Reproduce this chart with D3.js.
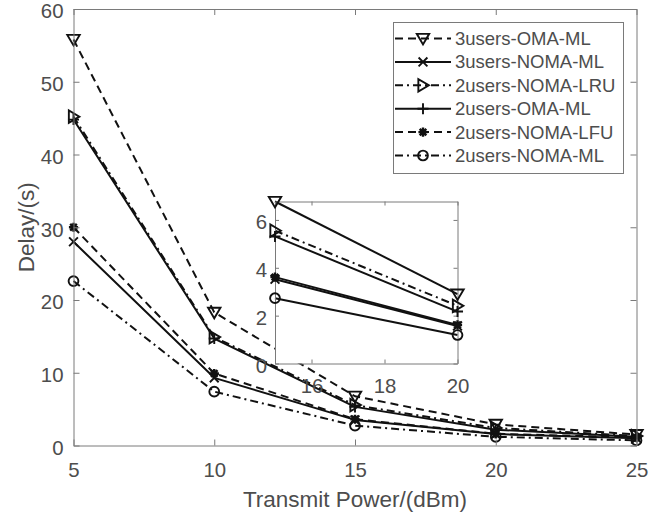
<!DOCTYPE html>
<html>
<head>
<meta charset="utf-8">
<script src="https://cdn.jsdelivr.net/npm/d3@7"></script>
<style>
  html, body { margin: 0; padding: 0; background: #fff; }
  svg { display: block; }
  text { font-family: "Liberation Sans", Arial, Helvetica, sans-serif; fill: #4d4d4d; }
</style>
</head>
<body>
<svg id="chart" width="670" height="514"></svg>
<script>
// Transmit power levels (dBm)
const powerLevels = [5, 10, 15, 20, 25];

// Average delay (s) for each scheme
const oma3Ml   = [55.8, 18.3, 6.77, 2.9, 1.5];
const noma3Ml  = [28.0, 9.3, 3.52, 1.57, 1.0];
const lru2Noma = [45.2, 14.9, 5.55, 2.41, 1.3];
const oma2Ml   = [44.8, 14.7, 5.31, 2.17, 1.2];
const lfu2Noma = [30.0, 9.9, 3.61, 1.61, 1.1];
const noma2Ml  = [22.6, 7.4, 2.73, 1.19, 0.7];

const seriesNames = ["3users-OMA-ML", "3users-NOMA-ML", "2users-NOMA-LRU",
                     "2users-OMA-ML", "2users-NOMA-LFU", "2users-NOMA-ML"];

const xTicks = [5, 10, 15, 20, 25];
const yTicks = [0, 10, 20, 30, 40, 50, 60];
const insetXTicks = [16, 18, 20];
const insetYTicks = [0, 2, 4, 6];

const DASH = "8,5";
const DASHDOT = "8,4,2,4";

const series = [
  { name: seriesNames[0], values: oma3Ml,   dash: DASH,    marker: "triDown",  insetDash: null },
  { name: seriesNames[1], values: noma3Ml,  dash: null,    marker: "x",        insetDash: null },
  { name: seriesNames[2], values: lru2Noma, dash: DASHDOT, marker: "triRight", insetDash: DASHDOT },
  { name: seriesNames[3], values: oma2Ml,   dash: null,    marker: "plus",     insetDash: null },
  { name: seriesNames[4], values: lfu2Noma, dash: DASH,    marker: "star",     insetDash: null },
  { name: seriesNames[5], values: noma2Ml,  dash: DASHDOT, marker: "circle",   insetDash: null }
];

const INK = "#111";
const AXIS = "#7a7a7a";
const TICK_FONT = 20.4;

// Marker shapes as path strings centred on the origin
function markerPath(type) {
  const t = 6.2, c = 4.6, s = 4.4;
  switch (type) {
    case "triDown":  return `M${-t},${-t*0.75}L${t},${-t*0.75}L0,${t*0.95}Z`;
    case "triRight": return `M${-t*0.75},${-t}L${-t*0.75},${t}L${t*0.95},0Z`;
    case "x":        return `M${-s},${-s}L${s},${s}M${-s},${s}L${s},${-s}`;
    case "plus":     return `M${-c*1.2},0L${c*1.2},0M0,${-c*1.2}L0,${c*1.2}`;
    case "star":     return `M${-c},0L${c},0M0,${-c}L0,${c}M${-c*0.72},${-c*0.72}L${c*0.72},${c*0.72}M${-c*0.72},${c*0.72}L${c*0.72},${-c*0.72}`;
    case "circle":   return d3.arc()({ innerRadius: 0, outerRadius: 4.9, startAngle: 0, endAngle: 2 * Math.PI });
  }
}

function drawMarkers(g, pts, type) {
  g.selectAll(null).data(pts).join("path")
    .attr("d", markerPath(type))
    .attr("transform", d => `translate(${d[0]},${d[1]})`)
    .attr("fill", "none")
    .attr("stroke", INK)
    .attr("stroke-width", type === "star" ? 2.4 : 1.9)
    .attr("stroke-linejoin", "miter");
}

const svg = d3.select("#chart");
svg.append("rect").attr("width", 670).attr("height", 514).attr("fill", "#fff");

// ---------- Main axes ----------
const M = { left: 73.5, right: 636.5, top: 9, bottom: 445.5 };
const x = d3.scaleLinear().domain([5, 25]).range([M.left, M.right]);
const y = d3.scaleLinear().domain([0, 60]).range([M.bottom, M.top]);

const line = d3.line().x(d => x(d[0])).y(d => y(d[1]));

const mainG = svg.append("g");
series.forEach(s => {
  const pts = powerLevels.map((p, i) => [p, s.values[i]]);
  mainG.append("path")
    .attr("d", line(pts))
    .attr("fill", "none")
    .attr("stroke", INK)
    .attr("stroke-width", 2)
    .attr("stroke-dasharray", s.dash)
    .attr("stroke-linejoin", "round");
  drawMarkers(mainG, pts.map(d => [x(d[0]), y(d[1])]), s.marker);
});

// Axis frame with inward ticks on all sides
function frame(g, xs, ys, xt, yt, tickLen, xPad, yPad) {
  const [x0, x1] = xs.range();
  const [y0, y1] = ys.range();
  const fmt = d3.format("~g");
  const bottom = d3.axisBottom(xs).tickValues(xt).tickFormat(fmt).tickSizeInner(-tickLen).tickSizeOuter(0).tickPadding(xPad);
  const top = d3.axisTop(xs).tickValues(xt).tickSizeInner(-tickLen).tickSizeOuter(0).tickFormat("");
  const left = d3.axisLeft(ys).tickValues(yt).tickFormat(fmt).tickSizeInner(-tickLen).tickSizeOuter(0).tickPadding(yPad);
  const right = d3.axisRight(ys).tickValues(yt).tickSizeInner(-tickLen).tickSizeOuter(0).tickFormat("");
  const style = sel => {
    sel.select(".domain").attr("stroke", AXIS).attr("stroke-width", 1);
    sel.selectAll(".tick line").attr("stroke", AXIS).attr("stroke-width", 1);
    sel.selectAll(".tick text").attr("fill", "#4d4d4d").style("font-size", TICK_FONT + "px")
      .style("font-family", '"Liberation Sans", Arial, sans-serif');
    sel.attr("font-family", null).attr("font-size", null);
  };
  g.append("g").attr("transform", `translate(0,${y0})`).call(bottom).call(style);
  g.append("g").attr("transform", `translate(0,${y1})`).call(top).call(style);
  g.append("g").attr("transform", `translate(${x0},0)`).call(left).call(style)
    .selectAll(".tick text").attr("dy", "0.44em");
  g.append("g").attr("transform", `translate(${x1},0)`).call(right).call(style);
}

frame(svg.append("g"), x, y, xTicks, yTicks, 6, 17, 10);

// Axis titles
svg.append("text")
  .attr("x", (M.left + M.right) / 2).attr("y", 507)
  .attr("text-anchor", "middle")
  .style("font-size", "22.5px")
  .text("Transmit Power/(dBm)");
svg.append("text")
  .attr("transform", `translate(26,${(M.top + M.bottom) / 2}) rotate(-90)`)
  .attr("text-anchor", "middle").attr("dominant-baseline", "central")
  .style("font-size", "22.5px")
  .text("Delay/(s)");

// ---------- Inset: zoom on 15–20 dBm ----------
const I = { left: 275, right: 457.5, top: 201.5, bottom: 363.5 };
const insetPower = powerLevels.slice(2, 4);
const insetMax = d3.max(series, s => d3.max(s.values.slice(2, 4)));
const xi = d3.scaleLinear().domain([15, 20]).range([I.left, I.right]);
const yi = d3.scaleLinear().domain([0, insetMax]).range([I.bottom, I.top]);

const insetG = svg.append("g");
insetG.append("rect")
  .attr("x", I.left).attr("y", I.top)
  .attr("width", I.right - I.left).attr("height", I.bottom - I.top)
  .attr("fill", "#fff");

const lineI = d3.line().x(d => xi(d[0])).y(d => yi(d[1]));
series.forEach(s => {
  const pts = insetPower.map((p, i) => [p, s.values[i + 2]]);
  insetG.append("path")
    .attr("d", lineI(pts))
    .attr("fill", "none")
    .attr("stroke", INK)
    .attr("stroke-width", 2)
    .attr("stroke-dasharray", s.insetDash)
    .attr("stroke-linejoin", "round");
});
frame(insetG.append("g"), xi, yi, insetXTicks, insetYTicks, 4, 15, 8);
series.forEach(s => {
  const pts = insetPower.map((p, i) => [xi(p), yi(s.values[i + 2])]);
  drawMarkers(insetG, pts, s.marker);
});

// ---------- Legend ----------
const L = { x: 393.5, y: 22.5, w: 230, h: 151, row0: 38.5, rowStep: 23.4 };
const legendG = svg.append("g");
legendG.append("rect")
  .attr("x", L.x).attr("y", L.y).attr("width", L.w).attr("height", L.h)
  .attr("fill", "#fff").attr("stroke", AXIS).attr("stroke-width", 1);
series.forEach((s, i) => {
  const cy = L.row0 + i * L.rowStep;
  legendG.append("line")
    .attr("x1", 395).attr("x2", 451).attr("y1", cy).attr("y2", cy)
    .attr("stroke", INK).attr("stroke-width", 2)
    .attr("stroke-dasharray", s.dash);
  drawMarkers(legendG, [[423, cy]], s.marker);
  legendG.append("text")
    .attr("x", 455).attr("y", cy)
    .attr("dominant-baseline", "central")
    .style("font-size", "18.5px")
    .attr("fill", "#1a1a1a")
    .text(s.name);
});
</script>
</body>
</html>
